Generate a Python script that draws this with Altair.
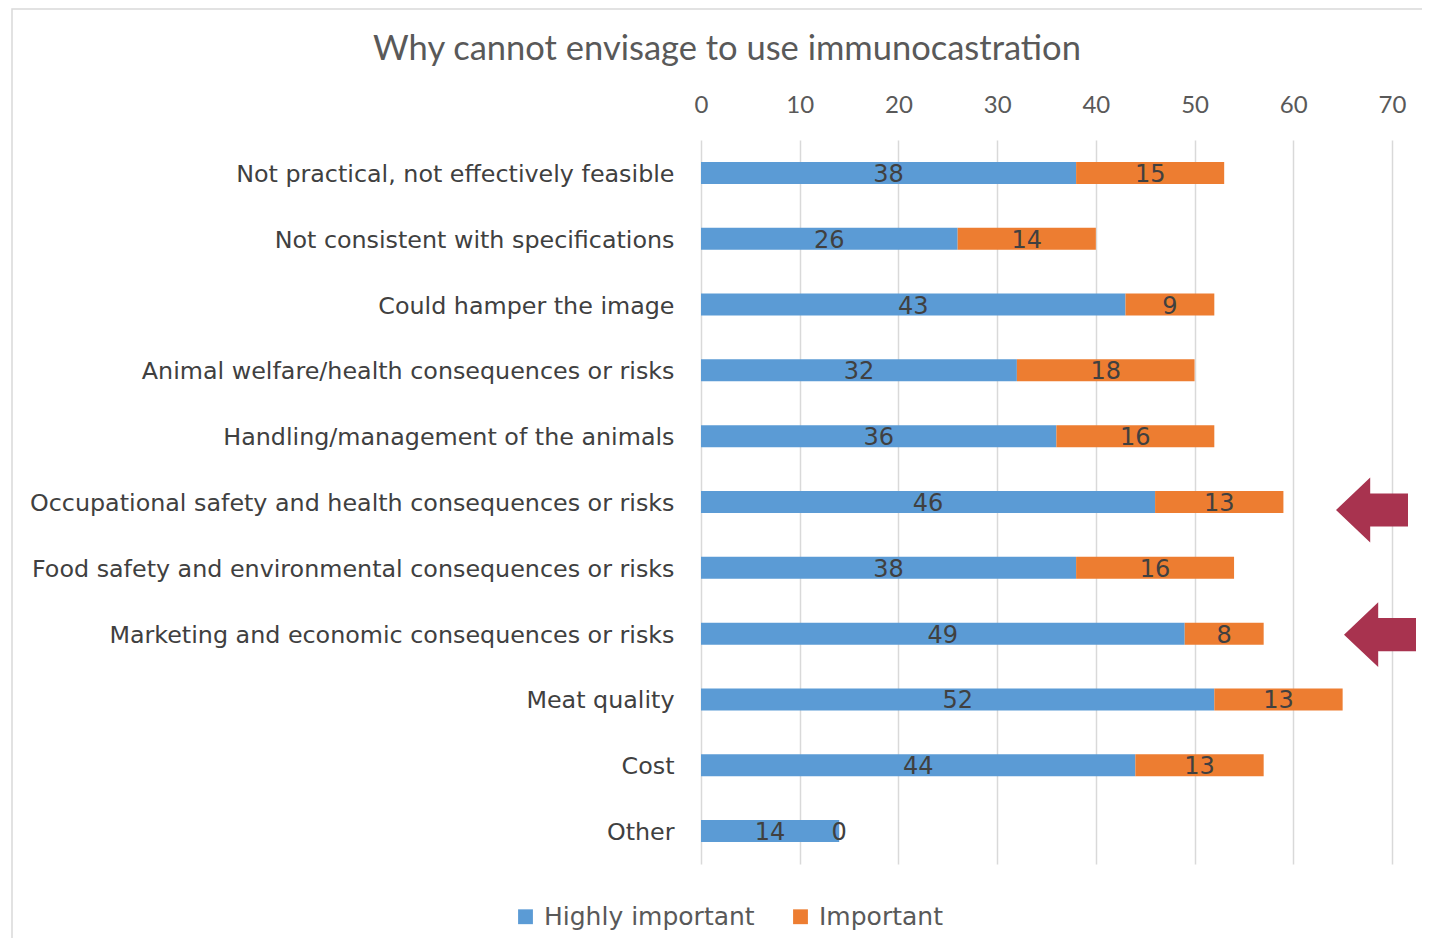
import altair as alt
import pandas as pd

title_text = "Why cannot envisage to use immunocastration"
categories = [
    "Not practical, not effectively feasible",
    "Not consistent with specifications",
    "Could hamper the image",
    "Animal welfare/health consequences or risks",
    "Handling/management of the animals",
    "Occupational safety and health consequences or risks",
    "Food safety and environmental consequences or risks",
    "Marketing and economic consequences or risks",
    "Meat quality",
    "Cost",
    "Other",
]
highly_important = [38, 26, 43, 32, 36, 46, 38, 49, 52, 44, 14]
important = [15, 14, 9, 18, 16, 13, 16, 8, 13, 13, 0]
series = ["Highly important", "Important"]
colors = ["#5B9BD5", "#ED7D31"]
x_ticks = [0, 10, 20, 30, 40, 50, 60, 70]
arrow_rows = ["Occupational safety and health consequences or risks",
              "Marketing and economic consequences or risks"]

rows = []
for c, h, i in zip(categories, highly_important, important):
    rows.append({"cat": c, "series": series[0], "value": h, "start": 0, "end": h, "mid": h / 2})
    rows.append({"cat": c, "series": series[1], "value": i, "start": h, "end": h + i, "mid": h + i / 2})
df = pd.DataFrame(rows)

LABEL_FONT = "DejaVu Sans"
NUM_FONT = "Lato"

y_enc = alt.Y("cat:N", sort=categories, title=None,
              scale=alt.Scale(paddingInner=0.666, paddingOuter=0.333),
              axis=alt.Axis(domain=False, ticks=False, labelFont=LABEL_FONT, labelFontSize=23.8,
                            labelColor="#404040", labelPadding=27, labelLimit=700, labelOffset=2))
x_scale = alt.Scale(domain=[0, 70], nice=False)

bars = alt.Chart(df).mark_bar().encode(
    y=y_enc,
    x=alt.X("start:Q", scale=x_scale, title=None,
            axis=alt.Axis(orient="top", values=x_ticks, domain=False, ticks=False,
                          grid=True, gridColor="#d9d9d9", gridWidth=1.5,
                          labelFont=NUM_FONT, labelFontSize=24, labelColor="#595959",
                          labelPadding=23, labelFlush=False)),
    x2="end:Q",
    color=alt.Color("series:N", scale=alt.Scale(domain=series, range=colors), title=None,
                    legend=alt.Legend(orient="none", direction="horizontal", legendX=-188, legendY=764,
                                      symbolType="square", symbolSize=220, symbolStrokeWidth=0,
                                      labelFont=LABEL_FONT, labelFontSize=25, labelColor="#595959",
                                      labelLimit=400, columnPadding=33, labelOffset=6)),
)

labels = alt.Chart(df).mark_text(font=LABEL_FONT, fontSize=24, color="#404040", dy=2).encode(
    y=alt.Y("cat:N", sort=categories),
    x=alt.X("mid:Q", scale=x_scale),
    text="value:Q",
)

title = alt.Chart(pd.DataFrame({"t": [title_text]})).mark_text(
    font=NUM_FONT, fontSize=34.5, color="#595959", align="center", baseline="middle"
).encode(x=alt.value(26), y=alt.value(-90), text="t:N")

arrow_path = "M -1 0 L -0.05 -0.9 L -0.05 -0.46 L 1 -0.46 L 1 0.46 L -0.05 0.46 L -0.05 0.9 Z"
arrow1 = alt.Chart(pd.DataFrame({"cat": [arrow_rows[0]]})).mark_point(
    shape=arrow_path, filled=True, color="#A8334F", opacity=1, size=5184, yOffset=8
).encode(y=alt.Y("cat:N", sort=categories), x=alt.value(671))
arrow2 = alt.Chart(pd.DataFrame({"cat": [arrow_rows[1]]})).mark_point(
    shape=arrow_path, filled=True, color="#A8334F", opacity=1, size=5184, yOffset=1
).encode(y=alt.Y("cat:N", sort=categories), x=alt.value(679))

border = alt.Chart(pd.DataFrame({"a": [0]})).mark_rect(
    fill=None, stroke="#d9d9d9", strokeWidth=1.5
).encode(x=alt.value(-689), x2=alt.value(760), y=alt.value(-131), y2=alt.value(900))

chart = alt.layer(border, bars, labels, title, arrow1, arrow2).properties(
    width=691, height=724,
    background="white",
    autosize=alt.AutoSizeParams(type="none"),
    padding={"left": 693, "top": 132, "right": 30, "bottom": 74},
).configure_view(stroke="transparent", strokeWidth=0)

chart.save("out.html", embed_options={"renderer": "svg", "actions": False})
